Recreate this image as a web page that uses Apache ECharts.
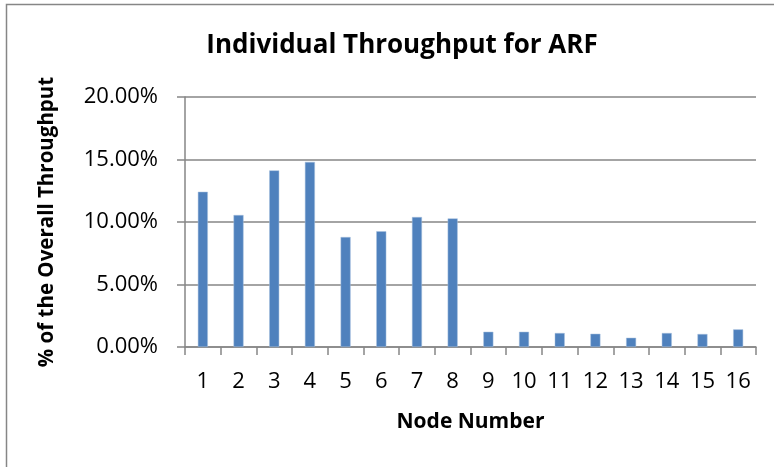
<!DOCTYPE html>
<html>
<head>
<meta charset="utf-8">
<script src="https://cdn.jsdelivr.net/npm/echarts@6/dist/echarts.min.js"></script>
<style>
  html, body { margin: 0; padding: 0; background: #ffffff; }
  #chart { width: 774px; height: 467px; }
</style>
</head>
<body>
<div id="chart"></div>
<script>
// Share of total throughput per node (percent)
const nodes = ['1', '2', '3', '4', '5', '6', '7', '8', '9', '10', '11', '12', '13', '14', '15', '16'];
const throughputShare = [12.42, 10.56, 14.13, 14.81, 8.80, 9.26, 10.40, 10.29,
                         1.22, 1.22, 1.12, 1.06, 0.74, 1.12, 1.04, 1.41];
const yTicks = { min: 0, max: 20, interval: 5 };

const FONT = '"Open Sans", "Noto Sans", sans-serif';
const chart = echarts.init(document.getElementById('chart'), null, { renderer: 'canvas' });

chart.setOption({
  backgroundColor: '#ffffff',
  animation: false,
  graphic: [{
    type: 'rect',
    shape: { x: 6.5, y: 4.5, width: 800, height: 500 },
    style: { fill: 'none', stroke: '#868686', lineWidth: 1.5 },
    silent: true
  }],
  title: {
    text: 'Individual Throughput for ARF',
    left: 397,
    top: 28,
    textAlign: 'center',
    textStyle: { fontFamily: FONT, fontWeight: 'bold', fontSize: 26, color: '#000000' }
  },
  grid: { left: 185, right: 18, top: 97, bottom: 120, containLabel: false },
  xAxis: {
    type: 'category',
    data: nodes,
    name: 'Node Number',
    nameLocation: 'middle',
    nameGap: 65,
    nameTextStyle: { fontFamily: FONT, fontWeight: 'bold', fontSize: 21, color: '#000000' },
    axisLine: { lineStyle: { color: '#868686', width: 1.5 } },
    axisTick: { show: true, length: 8, lineStyle: { color: '#868686', width: 1.5 } },
    axisLabel: { margin: 24, fontFamily: FONT, fontSize: 22, color: '#000000' },
    splitLine: { show: false }
  },
  yAxis: {
    type: 'value',
    min: yTicks.min,
    max: yTicks.max,
    interval: yTicks.interval,
    name: '% of the Overall Throughput',
    nameLocation: 'middle',
    nameRotate: 90,
    nameGap: 127,
    nameTextStyle: { fontFamily: FONT, fontWeight: 'bold', fontSize: 20.5, color: '#000000' },
    axisLine: { show: true, lineStyle: { color: '#868686', width: 1.5 } },
    axisTick: { show: true, length: 8, lineStyle: { color: '#868686', width: 1.5 } },
    axisLabel: {
      margin: 27,
      fontFamily: FONT,
      fontSize: 22,
      color: '#000000',
      formatter: v => v.toFixed(2) + '%'
    },
    splitLine: { show: true, lineStyle: { color: '#868686', width: 1.5 } }
  },
  series: [{
    type: 'bar',
    data: throughputShare,
    barWidth: 10,
    itemStyle: { color: '#4f81bd', borderColor: '#a9c1de', borderWidth: 0.5 }
  }]
});
</script>
</body>
</html>
